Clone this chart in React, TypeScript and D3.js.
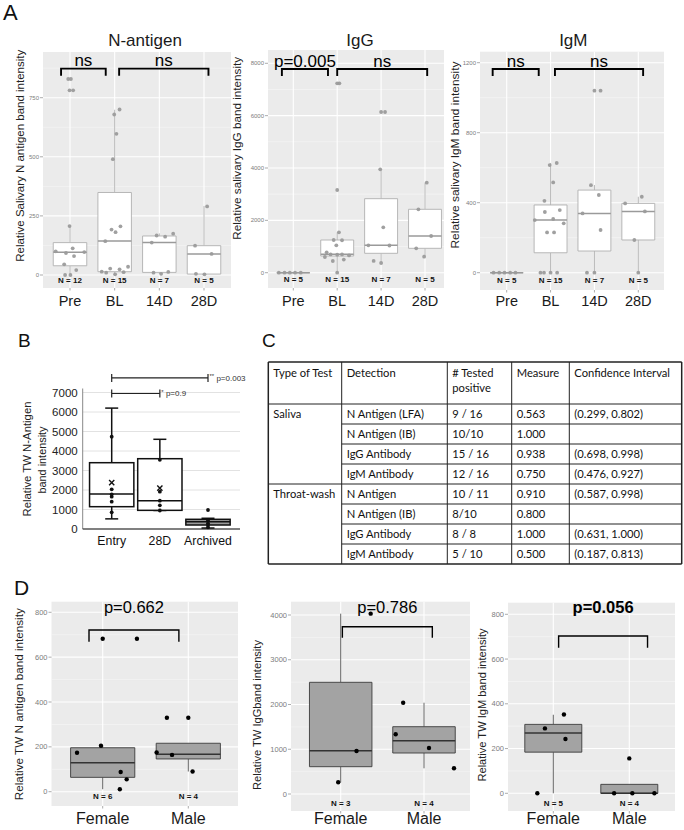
import React from "react";
import * as d3 from "d3";

// ---------------- Panel A data ----------------
const timeCats = ["Pre", "BL", "14D", "28D"];

const nAgCounts = [12, 15, 7, 5];
const nAgBox = [
  [0, 39, 96, 137, 207],
  [3, 14, 144, 349, 699],
  [5, 11, 138, 165, 176],
  [3, 4, 89, 124, 292],
];
const nAgValues = [
  [829, 829, 781, 781, 207, 113, 100, 93, 80, 97, 45, 21, 0, 0],
  [700, 679, 597, 490, 206, 192, 181, 143, 35, 27, 24, 14, 10, 3, 12],
  [175, 167, 162, 137, 10, 5, 13],
  [290, 124, 89, 5, 3],
];
const nAgJitter = [
  [-0.04, 0.02, -0.01, 0.07, -0.01, 0.06, -0.32, -0.09, 0.09, 0.32, -0.13, 0.14, -0.11, 0.01],
  [0.11, -0.01, 0.04, -0.04, 0.13, -0.07, 0.02, -0.21, 0.3, -0.1, 0.11, -0.29, -0.19, 0.01, 0.2],
  [0.31, -0.06, 0.13, -0.17, -0.13, 0.04, 0.2],
  [0.07, -0.2, 0.17, -0.18, 0.01],
];
const nAgTicks = [0, 250, 500, 750];
const nAgMinor = [125, 375, 625, 875];

const igGCounts = [5, 15, 7, 5];
const igGBox = [
  [0, 0, 0, 0, 0],
  [0, 638, 702, 1249, 1543],
  [420, 741, 1046, 2828, 3950],
  [612, 932, 1402, 2422, 3439],
];
const igGValues = [
  [0, 0, 0, 0, 0],
  [7236, 7236, 3160, 1543, 1250, 1240, 1046, 780, 700, 690, 700, 660, 600, 447, 500, 0],
  [6140, 6140, 3950, 1734, 1046, 1040, 450, 370],
  [3439, 2422, 1402, 932, 612],
];
const igGJitter = [
  [-0.33, -0.2, -0.08, 0.04, 0.17],
  [0, 0.05, 0, 0.04, -0.08, 0.11, -0.02, -0.24, -0.15, 0, 0.11, 0.27, -0.28, -0.1, 0.15, 0],
  [0, 0.09, -0.02, 0.05, -0.29, 0.19, -0.17, 0],
  [0.04, -0.15, 0.14, -0.2, -0.02],
];
const igGTicks = [0, 2000, 4000, 6000, 8000];
const igGMinor = [1000, 3000, 5000, 7000];

const igMCounts = [5, 15, 7, 5];
const igMBox = [
  [0, 0, 0, 0, 0],
  [0, 114, 301, 387, 627],
  [0, 124, 339, 472, 501],
  [0, 187, 350, 396, 434],
];
const igMValues = [
  [0, 0, 0, 0, 0],
  [627, 615, 516, 411, 347, 358, 301, 307, 282, 230, 230, 0, 0, 0, 0],
  [1040, 1040, 500, 444, 339, 244, 0, 0],
  [434, 396, 350, 187, 0],
];
const igMJitter = [
  [-0.3, -0.17, -0.05, 0.08, 0.2],
  [0.14, -0.02, 0.06, -0.14, -0.13, 0.21, -0.36, 0.06, 0.3, -0.08, 0.08, -0.23, -0.15, 0, 0.15],
  [0, 0.14, -0.08, 0.1, -0.27, 0.14, -0.17, 0],
  [0.08, -0.3, 0.15, -0.09, 0],
];
const igMTicks = [0, 400, 800, 1200];
const igMMinor = [200, 600, 1000];

// ---------------- Panel B data ----------------
const bCats = ["Entry", "28D", "Archived"];
const bBox = [
  [520, 1144, 1795, 3400, 6200],
  [950, 957, 1451, 3605, 4600],
  [50, 205, 374, 497, 550],
];
const bMeans = [2374, 2100, null];
const bValues = [
  [4733, 2036, 1779, 1656, 1400, 856],
  [3550, 1913, 1451, 1215, 950],
  [974, 450, 300, 200, 90],
];
const bTicks = [0, 1000, 2000, 3000, 4000, 5000, 6000, 7000];
const bSig = [
  { a: 0, b: 2, y: 7750, stars: "**", label: "p=0.003" },
  { a: 0, b: 1, y: 6950, stars: "*", label: "p=0.9" },
];

// ---------------- Panel C data ----------------
const tableHeader = ["Type of Test", "Detection", "# Tested|positive", "Measure", "Confidence Interval"];
const testTypes = ["Saliva", "Throat-wash"];
const detections = [
  "N Antigen (LFA)", "N Antigen (IB)", "IgG Antibody", "IgM Antibody",
  "N Antigen", "N Antigen (IB)", "IgG Antibody", "IgM Antibody",
];
const testedPositive = ["9 / 16", "10/10", "15 / 16", "12 / 16", "10 / 11", "8/10", "8 / 8", "5 / 10"];
const measures = ["0.563", "1.000", "0.938", "0.750", "0.910", "0.800", "1.000", "0.500"];
const confInts = [
  "(0.299, 0.802)", "", "(0.698, 0.998)", "(0.476, 0.927)",
  "(0.587, 0.998)", "", "(0.631, 1.000)", "(0.187, 0.813)",
];

// ---------------- Panel D data ----------------
const sexCats = ["Female", "Male"];

const dNCounts = [6, 4];
const dNBox = [
  [11, 64, 129, 196, 205],
  [90, 146, 167, 216, 216],
];
const dNValues = [
  [682, 682, 205, 174, 88, 55, 11],
  [330, 330, 175, 164, 90],
];
const dNJitter = [
  [0, 0.4, -0.02, -0.3, 0.21, 0.28, 0.2],
  [0, -0.25, -0.37, -0.19, 0.05],
];
const dNTicks = [0, 200, 400, 600, 800];
const dNMinor = [100, 300, 500, 700];

const dGCounts = [3, 4];
const dGBox = [
  [260, 610, 968, 2496, 4030],
  [574, 916, 1191, 1504, 2040],
];
const dGValues = [
  [4030, 960, 262],
  [2040, 1334, 1028, 574],
];
const dGJitter = [
  [0.36, 0.19, -0.03],
  [-0.25, -0.34, 0.06, 0.36],
];
const dGTicks = [0, 1000, 2000, 3000, 4000];
const dGMinor = [500, 1500, 2500, 3500];

const dMCounts = [5, 4];
const dMBox = [
  [0, 184, 270, 308, 351],
  [0, 0, 0, 40, 40],
];
const dMValues = [
  [352, 290, 243, 0],
  [156, 0, 0, 0],
];
const dMJitter = [
  [0.14, -0.11, 0.16, -0.21],
  [0, -0.2, 0.04, 0.33],
];
const dMTicks = [0, 200, 400, 600, 800];
const dMMinor = [100, 300, 500, 700];

// ---------------- components ----------------
type Bracket = {
  a: number; b: number; da: number; db: number;
  y: number; tip: number; label: string; ly?: number; bold?: boolean;
};

const FONT = "'Liberation Sans', Arial, Helvetica, sans-serif";

interface PanelProps {
  cats: string[];
  counts: number[];
  box: number[][];
  values: number[][];
  jitter: number[][];
  ticks: number[];
  minor: number[];
  brackets: Bracket[];
  rect: [number, number, number, number];
  centers: [number, number];
  yMap: [number, number, number];
  kind: "A" | "D";
  nLabelY: number;
  xLabelY: number;
  yTitle: string;
  yTitlePos: [number, number, number];
  title?: string;
  titlePos?: [number, number];
}

function Panel(p: PanelProps) {
  const [L, T, R, B] = p.rect;
  const x = d3.scalePoint<string>().domain(p.cats).range(p.centers);
  const step = x.step();
  const y = d3.scaleLinear().domain([0, p.yMap[1]]).range([p.yMap[0], p.yMap[2]]);
  const isA = p.kind === "A";
  const bw = step * 0.75;
  const boxStroke = isA ? "#b0b0b0" : "#3c3c3c";
  const boxFill = isA ? "#ffffff" : "#a3a3a3";
  const whisk = isA ? "#b0b0b0" : "#555555";
  const medStroke = isA ? "#9a9a9a" : "#333333";
  const ptFill = isA ? "#9b9b9b" : "#000000";
  const ptR = isA ? 1.9 : 2.2;
  const tickFs = isA ? 6 : 7.5;
  const [tx, tyc, tlen] = p.yTitlePos;
  const bracketW = isA ? 1.9 : 1.4;
  return (
    <g fontFamily={FONT}>
      <rect x={L} y={T} width={R - L} height={B - T} fill="#EBEBEB" />
      {p.minor.map((v) => (
        <line key={"mi" + v} x1={L} x2={R} y1={y(v)} y2={y(v)} stroke="#F6F6F6" strokeWidth={0.6} />
      ))}
      {p.ticks.map((v) => (
        <line key={"ma" + v} x1={L} x2={R} y1={y(v)} y2={y(v)} stroke="#FFFFFF" strokeWidth={1.1} />
      ))}
      {p.cats.map((c) => (
        <line key={"vc" + c} x1={x(c)} x2={x(c)} y1={T} y2={B} stroke="#FFFFFF" strokeWidth={1.1} />
      ))}
      {p.cats.map((c, i) => {
        const [lo, q1, md, q3, hi] = p.box[i];
        const cx = x(c)!;
        return (
          <g key={"bx" + c}>
            <line x1={cx} x2={cx} y1={y(q3)} y2={y(hi)} stroke={whisk} strokeWidth={0.9} />
            <line x1={cx} x2={cx} y1={y(q1)} y2={y(lo)} stroke={whisk} strokeWidth={0.9} />
            <path
              d={`M${cx - bw / 2},${y(q3)}H${cx + bw / 2}V${y(q1)}H${cx - bw / 2}Z`}
              fill={boxFill}
              stroke={boxStroke}
              strokeWidth={0.9}
            />
            <line x1={cx - bw / 2} x2={cx + bw / 2} y1={y(md)} y2={y(md)} stroke={medStroke} strokeWidth={1.5} />
          </g>
        );
      })}
      {p.cats.map((c, i) =>
        p.values[i].map((v, j) => (
          <circle
            key={"pt" + c + j}
            cx={x(c)! + p.jitter[i][j] * step}
            cy={y(v)}
            r={ptR}
            fill={ptFill}
            opacity={isA ? 0.95 : 1}
          />
        ))
      )}
      {p.cats.map((c, i) => (
        <text key={"n" + c} x={x(c)} y={p.nLabelY} fontSize={8} fontWeight="bold" textAnchor="middle" fill="#111">
          {"N = " + p.counts[i]}
        </text>
      ))}
      {p.brackets.map((br, k) => {
        const x1 = x(p.cats[br.a])! + br.da * step;
        const x2 = x(p.cats[br.b])! + br.db * step;
        const yb = y(br.y);
        const yt = y(br.tip);
        const ly = br.ly !== undefined ? y(br.ly) : yb - 2.5;
        return (
          <g key={"br" + k}>
            <path d={`M${x1},${yt}V${yb}H${x2}V${yt}`} fill="none" stroke="#000" strokeWidth={bracketW} />
            <text
              x={(x1 + x2) / 2}
              y={ly}
              fontSize={isA ? 17 : 16.5}
              fontWeight={br.bold ? "bold" : "normal"}
              textAnchor="middle"
              fill="#000"
            >
              {br.label}
            </text>
          </g>
        );
      })}
      {p.ticks.map((v) => (
        <g key={"yt" + v}>
          <line x1={L - 3} x2={L} y1={y(v)} y2={y(v)} stroke="#888" strokeWidth={0.7} />
          <text x={L - 4} y={y(v) + tickFs * 0.35} fontSize={tickFs} textAnchor="end" fill="#7d7d7d">
            {v}
          </text>
        </g>
      ))}
      {p.cats.map((c) => (
        <g key={"xt" + c}>
          <line x1={x(c)} x2={x(c)} y1={B} y2={B + 2.5} stroke="#888" strokeWidth={0.7} />
          <text x={x(c)} y={p.xLabelY} fontSize={isA ? 14.5 : 16} textAnchor="middle" fill="#1a1a1a">
            {c}
          </text>
        </g>
      ))}
      <text
        transform={`translate(${tx + 4},${tyc}) rotate(-90)`}
        fontSize={11}
        textAnchor="middle"
        textLength={tlen}
        lengthAdjust="spacingAndGlyphs"
        fill="#222"
      >
        {p.yTitle}
      </text>
      {p.title && p.titlePos && (
        <text x={p.titlePos[0]} y={p.titlePos[1]} fontSize={17} textAnchor="middle" fill="#1a1a1a">
          {p.title}
        </text>
      )}
    </g>
  );
}

function PanelB() {
  const x = d3.scalePoint<string>().domain(bCats).range([111.7, 208]);
  const y = d3.scaleLinear().domain([0, 7000]).range([529, 392.5]);
  const step = x.step();
  const bw = step * 0.92;
  const axL = 82.7;
  const axR = 240;
  const cap = 13;
  return (
    <g fontFamily={FONT}>
      {bTicks.map((v) => (
        <line key={"g" + v} x1={axL} x2={axR} y1={y(v)} y2={y(v)} stroke="#dadada" strokeWidth={0.8} />
      ))}
      {bTicks.map((v) => (
        <text key={"t" + v} x={axL - 5} y={y(v) + 4} fontSize={11.5} textAnchor="end" fill="#222">
          {v}
        </text>
      ))}
      <line x1={axL} x2={axL} y1={y(0)} y2={y(7000) - 4} stroke="#888" strokeWidth={1} />
      {bCats.map((c, i) => {
        const [lo, q1, md, q3, hi] = bBox[i];
        const cx = x(c)!;
        const mean = bMeans[i];
        return (
          <g key={"b" + c}>
            <line x1={cx} x2={cx} y1={y(q3)} y2={y(hi)} stroke="#111" strokeWidth={1.5} />
            <line x1={cx} x2={cx} y1={y(q1)} y2={y(lo)} stroke="#111" strokeWidth={1.5} />
            <line x1={cx - cap / 2} x2={cx + cap / 2} y1={y(hi)} y2={y(hi)} stroke="#111" strokeWidth={1.5} />
            <line x1={cx - cap / 2} x2={cx + cap / 2} y1={y(lo)} y2={y(lo)} stroke="#111" strokeWidth={1.5} />
            <rect
              x={cx - bw / 2}
              y={y(q3)}
              width={bw}
              height={y(q1) - y(q3)}
              fill={i === 2 ? "#9a9a9a" : "#fff"}
              stroke="#111"
              strokeWidth={1.5}
            />
            <line x1={cx - bw / 2} x2={cx + bw / 2} y1={y(md)} y2={y(md)} stroke="#111" strokeWidth={1.5} />
            {bValues[i].map((v, j) => (
              <circle key={"p" + j} cx={cx} cy={y(v)} r={1.9} fill="#111" />
            ))}
            {mean !== null && (
              <path
                d={`M${cx - 2.6},${y(mean) - 2.6}L${cx + 2.6},${y(mean) + 2.6}M${cx - 2.6},${y(mean) + 2.6}L${cx + 2.6},${y(mean) - 2.6}`}
                stroke="#111"
                strokeWidth={1.4}
              />
            )}
          </g>
        );
      })}
      <line x1={axL} x2={axR} y1={y(0)} y2={y(0)} stroke="#111" strokeWidth={1.2} />
      {bCats.map((c) => (
        <text key={"xl" + c} x={x(c)} y={545} fontSize={12.3} textAnchor="middle" fill="#111">
          {c}
        </text>
      ))}
      {bSig.map((s, k) => {
        const x1 = x(bCats[s.a])!;
        const x2 = x(bCats[s.b])!;
        const yy = y(s.y);
        return (
          <g key={"s" + k}>
            <line x1={x1} x2={x2} y1={yy} y2={yy} stroke="#222" strokeWidth={1.2} />
            <line x1={x1} x2={x1} y1={yy - 4} y2={yy + 4} stroke="#222" strokeWidth={1.2} />
            <line x1={x2} x2={x2} y1={yy - 4} y2={yy + 4} stroke="#222" strokeWidth={1.2} />
            <text x={x2 + 1.5} y={yy + 3} fontSize={8} fill="#333">
              <tspan fontSize={6} dy={-2.5}>{s.stars}</tspan>
              <tspan dy={2.5}>{" " + s.label}</tspan>
            </text>
          </g>
        );
      })}
      <text transform={`translate(${27 + 4},459) rotate(-90)`} fontSize={11.5} textAnchor="middle" textLength={115} lengthAdjust="spacingAndGlyphs" fill="#222">
        Relative TW N-Antigen
      </text>
      <text transform={`translate(${42 + 4},460) rotate(-90)`} fontSize={11.5} textAnchor="middle" textLength={67} lengthAdjust="spacingAndGlyphs" fill="#222">
        band intensity
      </text>
    </g>
  );
}

function TableC() {
  const cols = [268.3, 341.7, 447.3, 511.7, 569.3, 681.7];
  const top = 362;
  const headBottom = 404;
  const rowH = 20;
  const rowY = d3.range(detections.length + 1).map((i) => headBottom + i * rowH);
  const bottom = rowY[rowY.length - 1];
  const pad = 5;
  const fs = 11.2;
  return (
    <g fontFamily="Lato, 'Open Sans', sans-serif" fill="#111">
      {cols.map((cx, i) => (
        <line key={"v" + i} x1={cx} x2={cx} y1={top} y2={bottom} stroke="#222" strokeWidth={i === 0 || i === cols.length - 1 ? 1.5 : 1} />
      ))}
      <line x1={cols[0]} x2={cols[5]} y1={top} y2={top} stroke="#222" strokeWidth={1.5} />
      <line x1={cols[0]} x2={cols[5]} y1={bottom} y2={bottom} stroke="#222" strokeWidth={1.5} />
      {rowY.slice(0, -1).map((ry, i) => (
        <line
          key={"h" + i}
          x1={i === 0 || i === 4 ? cols[0] : cols[1]}
          x2={cols[5]}
          y1={ry}
          y2={ry}
          stroke="#222"
          strokeWidth={1}
        />
      ))}
      {tableHeader.map((h, i) =>
        h.split("|").map((line, k) => (
          <text key={"th" + i + k} x={cols[i] + pad} y={376.5 + k * 15.5} fontSize={fs}>
            {line}
          </text>
        ))
      )}
      {testTypes.map((t, i) => (
        <text key={"tt" + i} x={cols[0] + pad} y={rowY[i * 4] + 14} fontSize={fs}>
          {t}
        </text>
      ))}
      {detections.map((d, i) => (
        <g key={"r" + i}>
          <text x={cols[1] + pad} y={rowY[i] + 14} fontSize={fs}>{d}</text>
          <text x={cols[2] + pad} y={rowY[i] + 14} fontSize={fs}>{testedPositive[i]}</text>
          <text x={cols[3] + pad} y={rowY[i] + 14} fontSize={fs}>{measures[i]}</text>
          <text x={cols[4] + pad} y={rowY[i] + 14} fontSize={fs}>{confInts[i]}</text>
        </g>
      ))}
    </g>
  );
}

export default function App() {
  return (
    <svg
      width={684}
      height={830}
      style={{ position: "absolute", left: 0, top: 0, background: "#fff" }}
      fontFamily={FONT}
    >
      <rect x={0} y={0} width={684} height={830} fill="#fff" />
      <text x={3} y={20} fontSize={22} fill="#111">A</text>
      <text x={18} y={346.7} fontSize={19} fill="#111">B</text>
      <text x={262} y={346.7} fontSize={19} fill="#111">C</text>
      <text x={14} y={595} fontSize={21} fill="#111">D</text>

      <Panel
        cats={timeCats}
        counts={nAgCounts}
        box={nAgBox}
        values={nAgValues}
        jitter={nAgJitter}
        ticks={nAgTicks}
        minor={nAgMinor}
        brackets={[
          { a: 0, b: 1, da: -0.2, db: -0.2, y: 873, tip: 843, label: "ns" },
          { a: 1, b: 3, da: 0.1, db: 0.1, y: 873, tip: 843, label: "ns" },
        ]}
        rect={[43, 52, 231, 288]}
        centers={[70, 204]}
        yMap={[275, 750, 97.7]}
        kind="A"
        nLabelY={283}
        xLabelY={306}
        yTitle="Relative Salivary N antigen band intensity"
        yTitlePos={[20, 155.8, 212]}
        title="N-antigen"
        titlePos={[145, 45.7]}
      />
      <Panel
        cats={timeCats}
        counts={igGCounts}
        box={igGBox}
        values={igGValues}
        jitter={igGJitter}
        ticks={igGTicks}
        minor={igGMinor}
        brackets={[
          { a: 0, b: 1, da: -0.26, db: -0.21, y: 7782, tip: 7515, label: "p=0.005" },
          { a: 1, b: 3, da: 0, db: 0.05, y: 7782, tip: 7515, label: "ns" },
        ]}
        rect={[268, 50, 444, 288]}
        centers={[293.3, 425]}
        yMap={[272.7, 8000, 63.3]}
        kind="A"
        nLabelY={281.5}
        xLabelY={306}
        yTitle="Relative salivary IgG band intensity"
        yTitlePos={[236.7, 148.3, 183]}
        title="IgG"
        titlePos={[360, 45.7]}
      />
      <Panel
        cats={timeCats}
        counts={igMCounts}
        box={igMBox}
        values={igMValues}
        jitter={igMJitter}
        ticks={igMTicks}
        minor={igMMinor}
        brackets={[
          { a: 0, b: 1, da: -0.32, db: -0.27, y: 1164, tip: 1124, label: "ns" },
          { a: 1, b: 3, da: 0.1, db: 0.11, y: 1164, tip: 1124, label: "ns" },
        ]}
        rect={[480, 51.7, 664, 290]}
        centers={[506.7, 638.3]}
        yMap={[272.7, 1200, 62.7]}
        kind="A"
        nLabelY={283}
        xLabelY={306}
        yTitle="Relative salivary IgM  band intensity"
        yTitlePos={[455, 155, 187]}
        title="IgM"
        titlePos={[573.3, 45.7]}
      />

      <PanelB />
      <TableC />

      <Panel
        cats={sexCats}
        counts={dNCounts}
        box={dNBox}
        values={dNValues}
        jitter={dNJitter}
        ticks={dNTicks}
        minor={dNMinor}
        brackets={[{ a: 0, b: 1, da: -0.16, db: -0.11, y: 721, tip: 669, label: "p=0.662", ly: 795 }]}
        rect={[51.5, 601.7, 238, 806]}
        centers={[102.7, 188.3]}
        yMap={[791.7, 800, 612.3]}
        kind="D"
        nLabelY={799}
        xLabelY={824}
        yTitle="Relative TW N antigen band intensity"
        yTitlePos={[19.3, 704.2, 192]}
      />
      <Panel
        cats={sexCats}
        counts={dGCounts}
        box={dGBox}
        values={dGValues}
        jitter={dGJitter}
        ticks={dGTicks}
        minor={dGMinor}
        brackets={[{ a: 0, b: 1, da: 0.02, db: 0.1, y: 3739, tip: 3493, label: "p=0.786", ly: 4038 }]}
        rect={[291, 601.7, 470, 811]}
        centers={[340.7, 424]}
        yMap={[794, 4000, 615]}
        kind="D"
        nLabelY={806}
        xLabelY={824}
        yTitle="Relative TW IgGband intensity"
        yTitlePos={[256.7, 715, 150]}
      />
      <Panel
        cats={sexCats}
        counts={dMCounts}
        box={dMBox}
        values={dMValues}
        jitter={dMJitter}
        ticks={dMTicks}
        minor={dMMinor}
        brackets={[{ a: 0, b: 1, da: 0.07, db: 0.24, y: 703, tip: 651, label: "p=0.056", ly: 804, bold: true }]}
        rect={[508, 602.7, 675, 811]}
        centers={[553.3, 629.3]}
        yMap={[793.3, 800, 614.3]}
        kind="D"
        nLabelY={806}
        xLabelY={824}
        yTitle="Relative TW IgM band intensity"
        yTitlePos={[481.7, 705, 153]}
      />
    </svg>
  );
}
